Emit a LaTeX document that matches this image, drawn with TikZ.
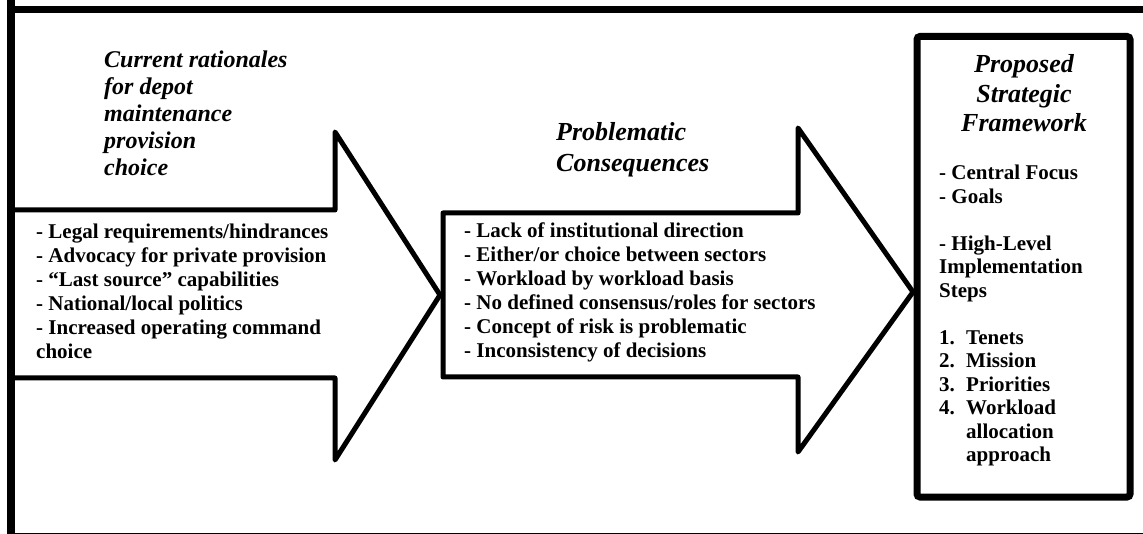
\documentclass[tikz,border=0pt]{standalone}
\usepackage{fontspec}
\setmainfont{Liberation Serif}
\begin{document}
\begin{tikzpicture}[x=1pt,y=-1pt,
  frameline/.style={line width=7.5pt},
  arrowshape/.style={line width=5pt,line join=round,fill=white},
  boxshape/.style={line width=7pt,rounded corners=3pt,fill=white},
  titleA/.style={inner sep=0pt,font=\fontsize{24}{27}\selectfont\bfseries\itshape},
  titleB/.style={inner sep=0pt,font=\fontsize{26}{31}\selectfont\bfseries\itshape},
  titleC/.style={inner sep=0pt,font=\fontsize{26}{29.5}\selectfont\bfseries\itshape},
  listA/.style={inner sep=0pt,font=\fontsize{21}{24}\selectfont\bfseries},
  listC/.style={inner sep=0pt,font=\fontsize{21}{23.5}\selectfont\bfseries}]
\useasboundingbox (0,0) rectangle (1143,534);
\clip (0,0) rectangle (1143,534);
\fill[white] (0,0) rectangle (1143,534);
% outer frame
\draw[frameline] (11,9.5) rectangle (1160,536.5);
% arrow 1
\draw[arrowshape] (11,210) -- (335,210) -- (335,132) -- (440,295) -- (335,460) -- (335,378) -- (11,378) -- cycle;
\draw[frameline] (11,0) -- (11,534);
% arrow 2
\draw[arrowshape] (443,213) -- (798,213) -- (798,128) -- (913,292) -- (798,452) -- (798,377) -- (443,377) -- cycle;
% right box
\draw[boxshape] (917,36.5) rectangle (1130,497);
% texts
\node[titleA,anchor=base west] (t1) at (104,68) {\begin{tabular}[t]{@{}l@{}}Current rationales\\for depot\\maintenance\\provision\\choice\end{tabular}};
\node[listA,anchor=base west] (l1) at (36,239) {\begin{tabular}[t]{@{}l@{}}- Legal requirements/hindrances\\- Advocacy for private provision\\- “Last source” capabilities\\- National/local politics\\- Increased operating command\\choice\end{tabular}};
\node[titleB,anchor=base west] (t2) at (556,141) {\begin{tabular}[t]{@{}l@{}}Problematic\\Consequences\end{tabular}};
\node[listA,anchor=base west] (l2) at (464,238) {\begin{tabular}[t]{@{}l@{}}- Lack of institutional direction\\- Either/or choice between sectors\\- Workload by workload basis\\- No defined consensus/roles for sectors\\- Concept of risk is problematic\\- Inconsistency of decisions\end{tabular}};
\node[titleC,anchor=base] (t3) at (1024,73) {\begin{tabular}[t]{@{}c@{}}Proposed\\Strategic\\Framework\end{tabular}};
\node[listC,anchor=base west] (l3) at (939,180) {\begin{tabular}[t]{@{}l@{}}- Central Focus\\- Goals\\[23.5pt]- High-Level\\Implementation\\Steps\\[23.5pt]\makebox[27pt][l]{1.}Tenets\\\makebox[27pt][l]{2.}Mission\\\makebox[27pt][l]{3.}Priorities\\\makebox[27pt][l]{4.}Workload\\\hspace*{27pt}allocation\\\hspace*{27pt}approach\end{tabular}};
\end{tikzpicture}
\end{document}
